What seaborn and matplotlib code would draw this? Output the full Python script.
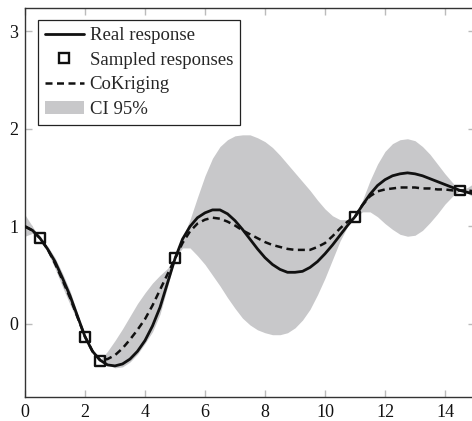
import numpy as np
import pandas as pd
import matplotlib
matplotlib.use("Agg")
import matplotlib.pyplot as plt
import seaborn as sns
from matplotlib.lines import Line2D
from matplotlib.patches import Patch

# ---- data ----
x = [0.0, 0.25, 0.5, 0.75, 1.0, 1.25, 1.5, 1.75, 2.0, 2.25, 2.5, 2.75, 3.0, 3.25, 3.5, 3.75,
     4.0, 4.25, 4.5, 4.75, 5.0, 5.25, 5.5, 5.75, 6.0, 6.25, 6.5, 6.75, 7.0, 7.25, 7.5, 7.75,
     8.0, 8.25, 8.5, 8.75, 9.0, 9.25, 9.5, 9.75, 10.0, 10.25, 10.5, 10.75, 11.0, 11.25, 11.5,
     11.75, 12.0, 12.25, 12.5, 12.75, 13.0, 13.25, 13.5, 13.75, 14.0, 14.25, 14.5, 14.75, 15.0]

real = [1.00, 0.96, 0.88, 0.77, 0.64, 0.47, 0.29, 0.08, -0.13, -0.28, -0.37, -0.42, -0.43, -0.41,
        -0.36, -0.28, -0.17, -0.02, 0.17, 0.42, 0.67, 0.87, 1.00, 1.09, 1.14, 1.17, 1.17, 1.13,
        1.06, 0.97, 0.87, 0.77, 0.68, 0.61, 0.56, 0.53, 0.53, 0.54, 0.58, 0.64, 0.72, 0.81, 0.91,
        1.01, 1.10, 1.22, 1.33, 1.42, 1.48, 1.52, 1.54, 1.55, 1.54, 1.52, 1.49, 1.46, 1.43, 1.40,
        1.37, 1.35, 1.33]

cokriging = [1.00, 0.96, 0.88, 0.77, 0.62, 0.45, 0.27, 0.07, -0.13, -0.28, -0.37, -0.36, -0.32,
             -0.25, -0.16, -0.06, 0.05, 0.19, 0.35, 0.51, 0.67, 0.83, 0.95, 1.03, 1.07, 1.09, 1.08,
             1.05, 1.01, 0.96, 0.92, 0.88, 0.84, 0.81, 0.79, 0.77, 0.76, 0.76, 0.76, 0.79, 0.83,
             0.90, 0.98, 1.05, 1.10, 1.22, 1.31, 1.36, 1.38, 1.39, 1.40, 1.40, 1.40, 1.39, 1.39,
             1.38, 1.38, 1.37, 1.37, 1.37, 1.36]

ci_upper = [1.12, 1.00, 0.88, 0.80, 0.68, 0.52, 0.34, 0.11, -0.13, -0.26, -0.37, -0.28, -0.17,
            -0.05, 0.08, 0.21, 0.32, 0.42, 0.50, 0.57, 0.67, 0.88, 1.07, 1.30, 1.52, 1.70, 1.82,
            1.89, 1.93, 1.94, 1.94, 1.91, 1.87, 1.81, 1.73, 1.64, 1.55, 1.46, 1.37, 1.27, 1.18,
            1.11, 1.07, 1.07, 1.10, 1.27, 1.47, 1.64, 1.77, 1.85, 1.89, 1.90, 1.88, 1.82, 1.74,
            1.64, 1.54, 1.45, 1.37, 1.40, 1.45]

ci_lower = [0.90, 0.93, 0.88, 0.74, 0.57, 0.38, 0.20, 0.03, -0.13, -0.29, -0.37, -0.42, -0.45,
            -0.44, -0.39, -0.31, -0.20, -0.08, 0.10, 0.38, 0.67, 0.78, 0.78, 0.70, 0.61, 0.50,
            0.39, 0.27, 0.16, 0.06, -0.01, -0.06, -0.09, -0.11, -0.11, -0.09, -0.04, 0.04, 0.15,
            0.30, 0.47, 0.66, 0.85, 1.00, 1.10, 1.15, 1.15, 1.10, 1.03, 0.97, 0.92, 0.90, 0.91,
            0.96, 1.04, 1.13, 1.23, 1.31, 1.37, 1.34, 1.29]

sample_x = [0.5, 2.0, 2.5, 5.0, 11.0, 14.5]
sample_y = [0.88, -0.137, -0.376, 0.674, 1.10, 1.37]

x_ticks = [0, 2, 4, 6, 8, 10, 12, 14]
y_ticks = [0, 1, 2, 3]

# ---- figure ----
sns.set_style("ticks")
plt.rcParams["font.family"] = ["Liberation Serif", "DejaVu Serif"]
plt.rcParams["mathtext.fontset"] = "stix"

W, H = 472, 421
fig = plt.figure(figsize=(W / 100, H / 100), dpi=100)
ax = fig.add_axes([25 / W, (H - 397) / H, 450 / W, (397 - 8) / H])

df = pd.DataFrame({"x": x, "real": real, "krig": cokriging})
sdf = pd.DataFrame({"x": sample_x, "y": sample_y})

band_color = "#c8c8ca"
dash = (0, (2.8, 1.8))
ax.fill_between(x, ci_lower, ci_upper, color=band_color, linewidth=0, zorder=1)
sns.lineplot(data=df, x="x", y="real", ax=ax, color="#111111", linewidth=2.0, zorder=3)
sns.lineplot(data=df, x="x", y="krig", ax=ax, color="#111111", linewidth=1.8,
             linestyle=dash, zorder=4)
sns.scatterplot(data=sdf, x="x", y="y", ax=ax, marker="s", s=50, facecolor="none",
                edgecolor="#111111", linewidth=1.7, zorder=5)

ax.set_xlim(0, 15)
ax.set_ylim(-0.749, 3.241)
ax.set_xticks(x_ticks)
ax.set_yticks(y_ticks)
ax.set_xlabel("")
ax.set_ylabel("")
ax.tick_params(axis="both", which="both", direction="in", length=5, width=1.0,
               color="#bbbbbb", labelsize=13, labelcolor="#111111",
               top=True, right=True, pad=5)
for side in ["left", "bottom", "top", "right"]:
    ax.spines[side].set_visible(True)
    ax.spines[side].set_color("#333333")
    ax.spines[side].set_linewidth(1.0)

handles = [
    Line2D([], [], color="#111111", linewidth=2.0),
    Line2D([], [], color="#111111", marker="s", linestyle="none", markersize=6.5,
           markerfacecolor="none", markeredgewidth=1.7),
    Line2D([], [], color="#111111", linewidth=1.8, linestyle=dash),
    Patch(facecolor=band_color, edgecolor="none"),
]
labels = ["Real response", "Sampled responses", "CoKriging", "CI 95%"]
leg = ax.legend(handles, labels, loc="upper left", bbox_to_anchor=(0.029, 0.968),
                fontsize=13.5, frameon=True, fancybox=False, framealpha=1,
                edgecolor="#222222", borderpad=0.35, labelspacing=0.4,
                handlelength=2.1, handletextpad=0.3, borderaxespad=0.0)
leg.get_frame().set_linewidth(0.9)

fig.savefig("out.png", dpi=100)
